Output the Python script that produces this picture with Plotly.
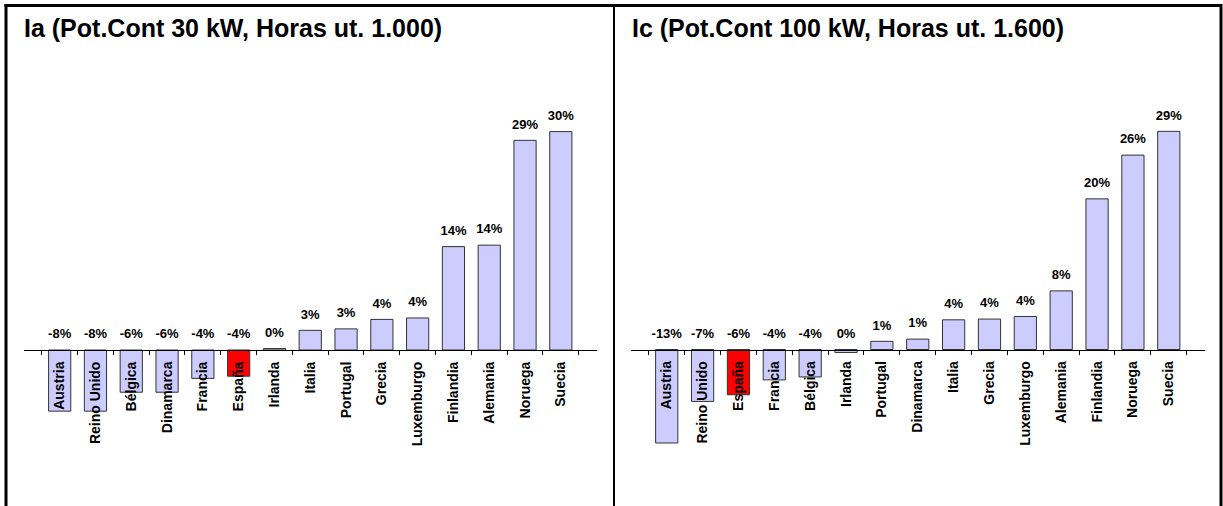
import plotly.graph_objects as go

W, H = 1223, 506

# ---------------- data ----------------
title_a = "Ia (Pot.Cont 30 kW, Horas ut. 1.000)"
cats_a = ["Austria", "Reino Unido", "Bélgica", "Dinamarca", "Francia", "España",
          "Irlanda", "Italia", "Portugal", "Grecia", "Luxemburgo", "Finlandia",
          "Alemania", "Noruega", "Suecia"]
vals_a = [-8.4, -8.4, -5.8, -5.8, -3.9, -3.6, 0.2, 2.7, 2.9, 4.2, 4.4, 14.2,
          14.4, 28.8, 30.0]

title_c = "Ic (Pot.Cont 100 kW, Horas ut. 1.600)"
cats_c = ["Austria", "Reino Unido", "España", "Francia", "Bélgica", "Irlanda",
          "Portugal", "Dinamarca", "Italia", "Grecia", "Luxemburgo", "Alemania",
          "Finlandia", "Noruega", "Suecia"]
vals_c = [-12.6, -7.0, -6.1, -4.1, -3.7, -0.4, 1.1, 1.4, 4.0, 4.1, 4.45, 7.9,
          20.3, 26.2, 29.4]

highlight = "España"

# ---------------- styling ----------------
FONT = "Arial, Liberation Sans, sans-serif"
BAR = "#CCCCFF"
RED = "#FF0000"


def px_x(p):
    return p / W


def px_y(p):
    return 1 - p / H


fig = go.Figure()

panels = [
    # cats, vals, title, axis suffix, x domain px, zero px, px per unit, title x
    (cats_a, vals_a, title_a, "", (23.5, 597), 350.0, 7.28, 22),
    (cats_c, vals_c, title_c, "2", (630.5, 1205), 349.5, 7.42, 630),
]

plot_top, plot_bot = 60, 500
ydom = [px_y(plot_bot), px_y(plot_top)]

for cats, vals, title, sfx, (x0, x1), zero, scale, tx in panels:
    xa = "x" + sfx
    ya = "y" + sfx
    colors = [RED if c == highlight else BAR for c in cats]
    fig.add_trace(go.Bar(
        x=cats, y=vals, xaxis=xa, yaxis=ya,
        marker=dict(color=colors, line=dict(color="#333333", width=1)),
        width=0.62, showlegend=False, hoverinfo="skip",
    ))
    fig.add_trace(go.Scatter(
        x=cats, y=[max(v, 0) for v in vals], xaxis=xa, yaxis=ya,
        mode="markers+text", text=[f"{round(v):.0f}%" for v in vals],
        marker=dict(size=12, opacity=0),
        textposition="top center",
        textfont=dict(family=FONT, size=13, color="black", weight="bold"),
        showlegend=False, hoverinfo="skip", cliponaxis=False,
    ))
    ymax = (zero - plot_top) / scale
    ymin = -(plot_bot - zero) / scale
    zero_pos = px_y(zero)
    fig.layout["xaxis" + sfx] = dict(
        domain=[px_x(x0), px_x(x1)], anchor="free", position=zero_pos,
        type="category", tickangle=-90, showline=True, linecolor="black",
        linewidth=1, ticks="outside", ticklen=4, tickcolor="black",
        tickson="boundaries", showgrid=False, zeroline=False,
        ticklabelstandoff=5,
        tickfont=dict(family=FONT, size=14, color="black", weight="bold"),
        fixedrange=True,
    )
    fig.layout["yaxis" + sfx] = dict(
        domain=ydom, range=[ymin, ymax], visible=False, showgrid=False,
        zeroline=False, anchor=xa, fixedrange=True,
    )
    fig.add_annotation(
        xref="paper", yref="paper", x=px_x(tx), y=px_y(28),
        xanchor="left", yanchor="middle", showarrow=False, text=title,
        font=dict(family=FONT, size=25, color="black", weight="bold"),
    )

# frame lines
fig.add_shape(type="line", xref="paper", yref="paper",
              x0=px_x(4.5), x1=px_x(1222), y0=px_y(5.5), y1=px_y(5.5),
              line=dict(color="black", width=3))
fig.add_shape(type="line", xref="paper", yref="paper",
              x0=px_x(6), x1=px_x(6), y0=px_y(4), y1=0,
              line=dict(color="black", width=3))
fig.add_shape(type="line", xref="paper", yref="paper",
              x0=px_x(614), x1=px_x(614), y0=px_y(5), y1=0,
              line=dict(color="black", width=2))
fig.add_shape(type="line", xref="paper", yref="paper",
              x0=px_x(1221), x1=px_x(1221), y0=px_y(4), y1=0,
              line=dict(color="black", width=3))

fig.update_layout(
    width=W, height=H, margin=dict(l=0, r=0, t=0, b=0),
    paper_bgcolor="white", plot_bgcolor="white",
    bargap=0.38, font=dict(family=FONT),
)

fig.write_html(
    "out.html", include_plotlyjs=True, config={"displayModeBar": False},
    post_script="document.body.style.margin='0';document.body.style.overflow='hidden';",
)
